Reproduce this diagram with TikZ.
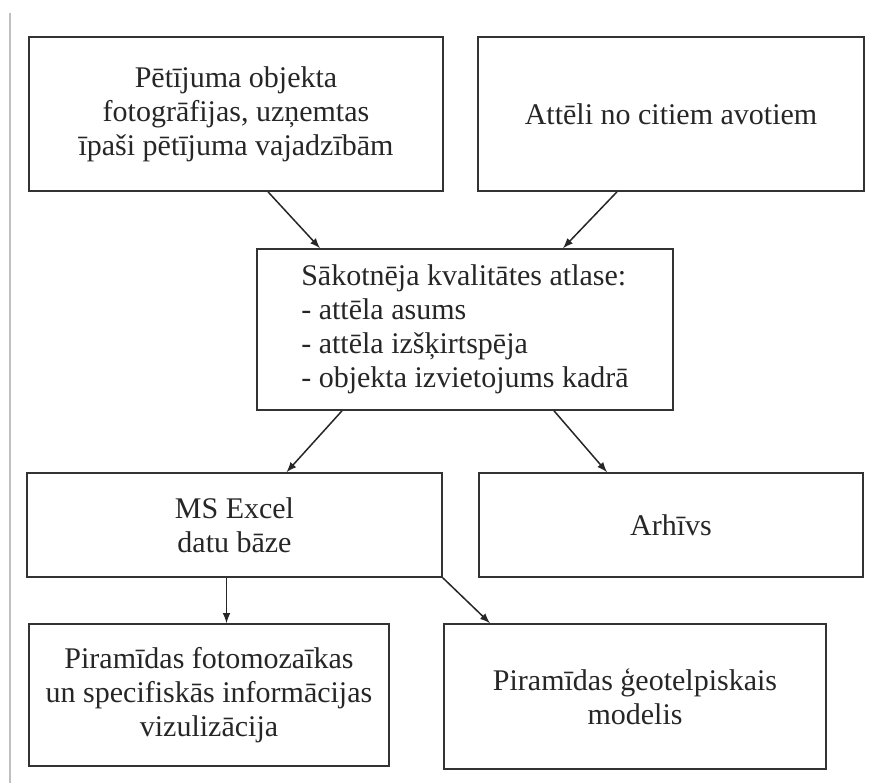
\documentclass[tikz,border=0pt]{standalone}
\usepackage{fontspec}
\setmainfont{Liberation Serif}
\usepackage{xcolor}
\usepackage{tikz}
\usetikzlibrary{shapes,arrows,positioning}

\begin{document}
\begin{tikzpicture}[
    x=0.5pt, y=-0.5pt,
    box/.style={rectangle, draw=black!80, line width=0.8pt, inner sep=0pt, align=center,
        font=\fontsize{15}{17}\selectfont, text=black!85},
    flow/.style={-latex, draw=black!85, line width=0.75pt}
]
    \useasboundingbox (0,0) rectangle (873,783);
    % left margin rule
    \draw[black!25, line width=0.8pt] (10,13) -- (10,783);

    % Sources
    \node[box, minimum width=207pt, minimum height=77pt] (photos) at (236,114)
        {Pētījuma objekta\\ fotogrāfijas, uzņemtas\\ īpaši pētījuma vajadzībām};
    \node[box, minimum width=193pt, minimum height=77pt] (sources) at (671,114)
        {Attēli no citiem avotiem};

    % Selection
    \node[box, minimum width=208pt, minimum height=80.5pt, align=left] (quality) at (465,329.5)
        {Sākotnēja kvalitātes atlase:\\ - attēla asums\\ - attēla izšķirtspēja\\ - objekta izvietojums kadrā};

    % Storage
    \node[box, minimum width=207.5pt, minimum height=52pt] (excel) at (234.5,525)
        {MS Excel\\ datu bāze};
    \node[box, minimum width=192pt, minimum height=52pt] (archive) at (671,525)
        {Arhīvs};

    % Outputs
    \node[box, minimum width=180pt, minimum height=71pt] (mosaic) at (209,695)
        {Piramīdas fotomozaīkas\\ un specifiskās informācijas\\ vizulizācija};
    \node[box, minimum width=191pt, minimum height=72.5pt] (geomodel) at (635,696.5)
        {Piramīdas ģeotelpiskais\\ modelis};

    % Connectors
    \draw[flow] ([xshift=16pt]photos.south) -- ([xshift=-72.5pt]quality.north);
    \draw[flow] ([xshift=-27pt]sources.south) -- ([xshift=49pt]quality.north);
    \draw[flow] ([xshift=-61.5pt]quality.south) -- ([xshift=26pt]excel.north);
    \draw[flow] ([xshift=44.5pt]quality.south) -- ([xshift=-32pt]archive.north);
    \draw[flow] ([xshift=-4pt]excel.south) -- ([xshift=-4pt]excel.south |- mosaic.north);
    \draw[flow] (excel.south east) -- ([xshift=-72.5pt]geomodel.north);
\end{tikzpicture}
\end{document}
